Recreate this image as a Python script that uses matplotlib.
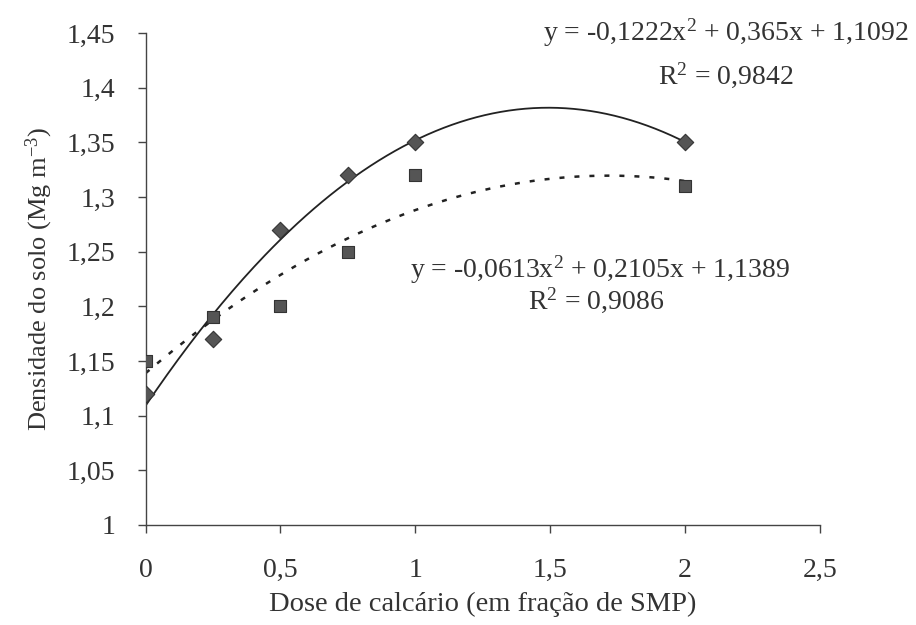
import matplotlib.pyplot as plt
import numpy as np

plt.rcParams['font.family'] = ['Liberation Serif', 'DejaVu Serif']
plt.rcParams['mathtext.default'] = 'regular'

# Data
doses = [0, 0.25, 0.5, 0.75, 1, 2]
dens_diamond = [1.12, 1.17, 1.27, 1.32, 1.35, 1.35]
dens_square = [1.15, 1.19, 1.20, 1.25, 1.32, 1.31]

# Trendline coefficients (a, b, c) as printed on the chart
coef_diamond = [-0.1222, 0.365, 1.1092]
coef_square = [-0.0613, 0.2105, 1.1389]

x_ticks = [0, 0.5, 1, 1.5, 2, 2.5]
x_ticklabels = ['0', '0,5', '1', '1,5', '2', '2,5']
y_ticks = [1, 1.05, 1.1, 1.15, 1.2, 1.25, 1.3, 1.35, 1.4, 1.45]
y_ticklabels = ['1', '1,05', '1,1', '1,15', '1,2', '1,25', '1,3', '1,35', '1,4', '1,45']

fig = plt.figure(figsize=(9.16, 6.25), dpi=100)
ax = fig.add_axes([0.159, 0.16, 0.736, 0.787])

xs = np.linspace(0, 2, 200)
ax.plot(xs, np.polyval(coef_diamond, xs), color='#222222', lw=1.3, zorder=2)
ax.plot(xs, np.polyval(coef_square, xs), color='#222222', lw=1.8,
        linestyle=(0, (2, 4)), zorder=2)

ax.scatter(doses, dens_diamond, marker='D', s=70, color='#555555',
           edgecolors='#333333', linewidths=0.8, zorder=3)
ax.scatter(doses, dens_square, marker='s', s=75, color='#555555',
           edgecolors='#333333', linewidths=0.8, zorder=3)

ax.set_xlim(0, 2.5)
ax.set_ylim(1, 1.45)
ax.set_xticks(x_ticks)
ax.set_xticklabels(x_ticklabels)
ax.set_yticks(y_ticks)
ax.set_yticklabels(y_ticklabels)
ax.spines['top'].set_visible(False)
ax.spines['right'].set_visible(False)
for s in ['left', 'bottom']:
    ax.spines[s].set_color('#444444')
    ax.spines[s].set_linewidth(1.0)
ax.tick_params(axis='both', direction='out', length=6, width=1.0,
               color='#444444', labelsize=20, labelcolor='#333333')
ax.tick_params(axis='x', pad=18)
ax.tick_params(axis='y', pad=16)

ax.set_xlabel('Dose de calcário (em fração de SMP)', fontsize=20.5,
              color='#333333', labelpad=6)
ax.set_ylabel('Densidade do solo (Mg m$^{-3}$)', fontsize=19,
              color='#333333', labelpad=8)

ax.text(2.15, 1.45, 'y = -0,1222x$^{2}$ + 0,365x + 1,1092', fontsize=20,
        color='#333333', ha='center', va='center', clip_on=False)
ax.text(2.15, 1.4116, 'R$^{2}$ = 0,9842', fontsize=20, color='#333333',
        ha='center', va='center', clip_on=False)
ax.text(1.684, 1.2332, 'y = -0,0613x$^{2}$ + 0,2105x + 1,1389', fontsize=20,
        color='#333333', ha='center', va='center')
ax.text(1.67, 1.2058, 'R$^{2}$ = 0,9086', fontsize=20, color='#333333',
        ha='center', va='center')

fig.savefig('out.png', dpi=100, facecolor='white')
